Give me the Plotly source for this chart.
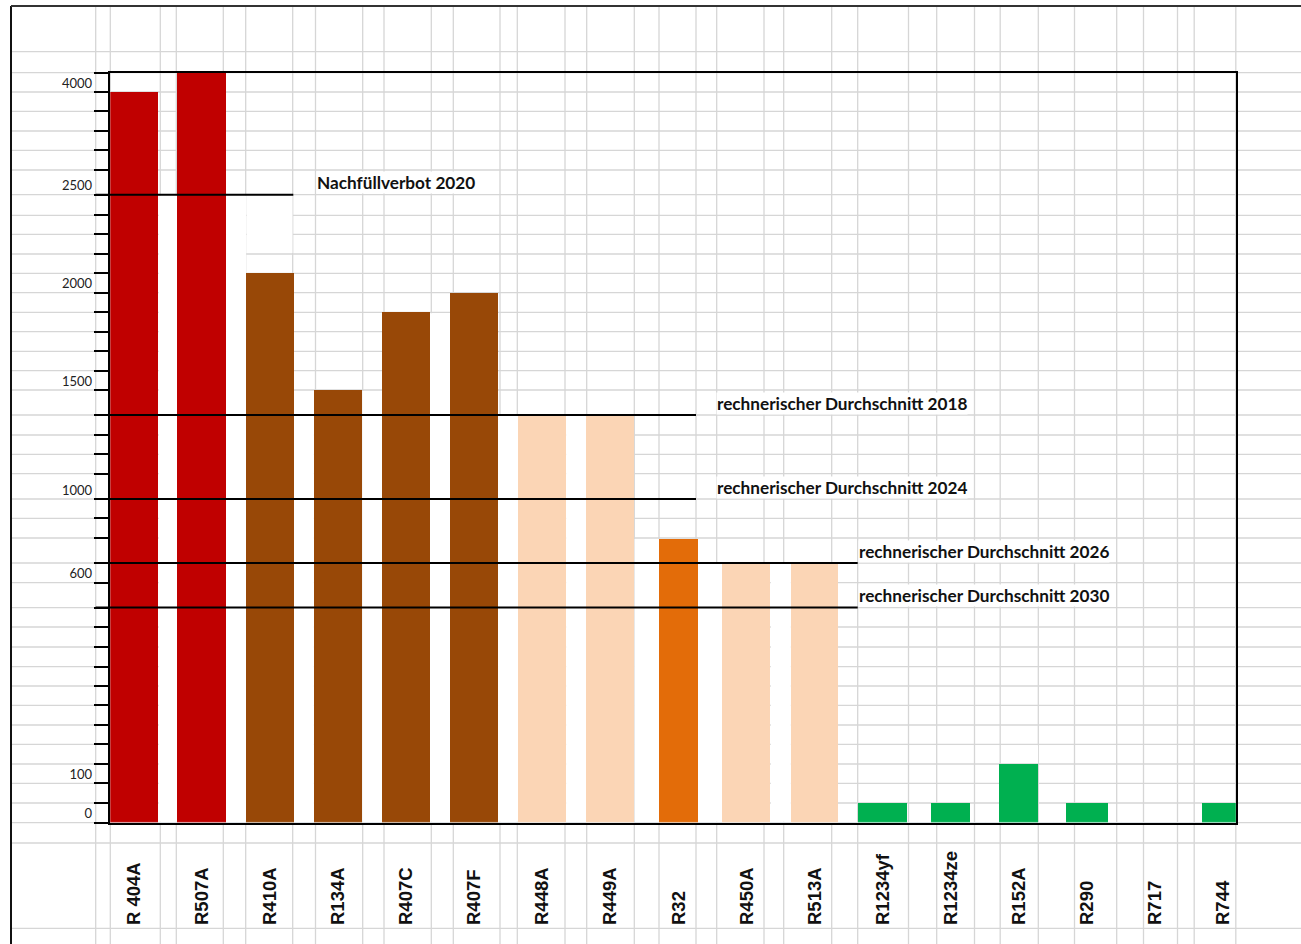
import numpy as np
import plotly.graph_objects as go

# ---------------- data ----------------
refrigerants = ["R 404A", "R507A", "R410A", "R134A", "R407C", "R407F",
                "R448A", "R449A", "R32", "R450A", "R513A",
                "R1234yf", "R1234ze", "R152A", "R290", "R717", "R744"]
gwp = [4000, 4280, 2100, 1500, 1900, 2002, 1385, 1385, 812, 694, 694,
       51, 51, 148, 51, 0, 51]
gwp_class = ["sehr hoch", "sehr hoch", "hoch", "hoch", "hoch", "hoch",
             "mittel", "mittel", "R32", "mittel", "mittel",
             "niedrig", "niedrig", "niedrig", "niedrig", "niedrig", "niedrig"]

limit_labels = ["Nachfüllverbot 2020",
                "rechnerischer Durchschnitt 2018",
                "rechnerischer Durchschnitt 2024",
                "rechnerischer Durchschnitt 2026",
                "rechnerischer Durchschnitt 2030"]
limit_values = [2500, 1385, 1000, 694, 538]

y_tick_values = [0, 100, 600, 1000, 1500, 2000, 2500, 4000]
y_tick_labels = ["0", "100", "600", "1000", "1500", "2000", "2500", "4000"]

# ---------------- styles / layout geometry ----------------
W, H = 1301, 944
CLASS_COLORS = {"sehr hoch": "#C00000", "hoch": "#984807", "mittel": "#FBD5B5",
                "R32": "#E36C09", "niedrig": "#00B050"}
BAR_WIDTHS = [0.73, 0.71, 0.70, 0.71, 0.70, 0.70, 0.70, 0.71, 0.57, 0.71, 0.70,
              0.72, 0.57, 0.57, 0.62, 0.60, 0.61]
# non-linear value axis of the original: position of each labelled value (px above baseline)
SCALE_POS = [0, 39.4, 240.0, 323.7, 432.7, 530.0, 628.0, 730.7]

PLOT_L, PLOT_R, PLOT_T, PLOT_B = 110.3, 1235.8, 72.7, 822.7
TICK_L = 95.7
X_RANGE = [-0.345, 16.185]
LABEL_BASE = 925

# spreadsheet backdrop
GRID_ROWS = [51.7, 72.7, 92, 111.3, 131, 150.3, 170, 194.7, 215.3, 234.3, 254, 273.3,
             292.7, 312.3, 331.7, 351.3, 370.7, 390, 415, 435, 454.3, 473.7, 499,
             518.3, 538, 563, 582.7, 607.7, 627, 647, 666.7, 686, 705.3, 725,
             744.3, 764, 783.3, 803, 822.7, 843, 928.3]
GRID_COLS = [95.7, 110.3, 160.3, 176.3, 223.3, 245.7, 292.7, 315.5, 362.7, 384,
             431.3, 453.3, 500, 517.3, 565, 586.7, 634.3, 659, 696, 716.7, 764,
             783.7, 831.7, 857.7, 908.5, 936.7, 974.5, 1000.2, 1038.3, 1074.5,
             1116.7, 1143.5, 1177.5, 1194.2, 1235.8]
# white-filled gap columns between neighbouring bars: (left bar index, first white row px)
WHITE_GAPS = [(0, 194.7), (1, 194.7), (2, 390), (3, 390), (4, 312.3),
              (5, 415), (6, 415), (7, 538), (8, 563), (9, 563)]
# other white-filled cells: x0, x1, y0, y1 in px
WHITE_CELLS = [(245.7, 292.7, 194.7, 254), (1000.2, 1038.3, 744.3, 764)]
FRAME_X, FRAME_Y = 11, 6
LIMIT_LINE_END = [293.3, 696, 696, 857.7, 857.7]
LIMIT_TEXT_X = [316, 716, 716, 858, 858]


def to_disp(v):
    v = np.asarray(v, dtype=float)
    out = np.interp(v, y_tick_values, SCALE_POS)
    slope = (SCALE_POS[-1] - SCALE_POS[-2]) / (y_tick_values[-1] - y_tick_values[-2])
    return np.where(v > y_tick_values[-1], SCALE_POS[-1] + (v - y_tick_values[-1]) * slope, out)


def px_x(x):
    return x / W


def px_y(y):
    return 1 - y / H


fig = go.Figure()
fig.add_trace(go.Bar(
    x=refrigerants, y=to_disp(gwp),
    marker=dict(color=[CLASS_COLORS[c] for c in gwp_class], line=dict(width=0)),
    width=BAR_WIDTHS, customdata=gwp,
    hovertemplate="%{x}: %{customdata}<extra></extra>", showlegend=False))
# carrier of the category labels (label row below the chart)
fig.add_trace(go.Bar(x=refrigerants, y=[0] * len(refrigerants), xaxis="x2", yaxis="y",
                     marker=dict(color="rgba(0,0,0,0)"), hoverinfo="skip", showlegend=False))

shapes = []
for r in GRID_ROWS:
    shapes.append(dict(type="line", xref="paper", yref="paper", x0=px_x(FRAME_X), x1=1,
                       y0=px_y(r), y1=px_y(r), line=dict(color="#D6D6D6", width=1.3),
                       layer="below"))
for c in GRID_COLS:
    shapes.append(dict(type="line", xref="paper", yref="paper", x0=px_x(c), x1=px_x(c),
                       y0=px_y(FRAME_Y), y1=0, line=dict(color="#D6D6D6", width=1.3),
                       layer="below"))
for i, top in WHITE_GAPS:
    shapes.append(dict(type="rect", xref="x", yref="paper",
                       x0=i + BAR_WIDTHS[i] / 2, x1=i + 1 - BAR_WIDTHS[i + 1] / 2,
                       y0=px_y(PLOT_B - 1), y1=px_y(top + 1),
                       fillcolor="white", line=dict(width=0), layer="below"))
for x0, x1, y0, y1 in WHITE_CELLS:
    shapes.append(dict(type="rect", xref="paper", yref="paper",
                       x0=px_x(x0 + 1), x1=px_x(x1 - 0.2), y0=px_y(y1 - 1), y1=px_y(y0 + 1),
                       fillcolor="white", line=dict(width=0), layer="below"))
# outer frame
shapes.append(dict(type="line", xref="paper", yref="paper", x0=px_x(FRAME_X), x1=px_x(FRAME_X),
                   y0=px_y(FRAME_Y), y1=0, line=dict(color="#111111", width=2)))
shapes.append(dict(type="line", xref="paper", yref="paper", x0=px_x(FRAME_X), x1=1,
                   y0=px_y(FRAME_Y), y1=px_y(FRAME_Y), line=dict(color="#333333", width=2)))
# limit lines
for val, xe in zip(limit_values, LIMIT_LINE_END):
    yv = float(to_disp(val))
    shapes.append(dict(type="line", xref="paper", yref="y", x0=px_x(TICK_L), x1=px_x(xe),
                       y0=yv, y1=yv, line=dict(color="black", width=2), layer="above"))

annotations = []
for lab, val, xt in zip(limit_labels, limit_values, LIMIT_TEXT_X):
    annotations.append(dict(text="<b>%s</b>" % lab, x=px_x(xt), xref="paper", xanchor="left",
                            y=float(to_disp(val)), yref="y", yanchor="middle", yshift=12,
                            showarrow=False, bgcolor="white", borderpad=0,
                            font=dict(family="Lato, Open Sans, sans-serif", size=17.2, color="#111111")))

# ticks: a tick at every spreadsheet row inside the plot, labels on the labelled values
row_disp = [PLOT_B - r for r in GRID_ROWS if PLOT_T - 0.5 <= r <= PLOT_B + 0.5]
lab_disp = list(to_disp(y_tick_values))
tickvals, ticktext = [], []
for d in row_disp:
    match = [i for i, ld in enumerate(lab_disp) if abs(ld - d) < 1.0]
    if match:
        tickvals.append(lab_disp[match[0]])
        ticktext.append(y_tick_labels[match[0]])
    else:
        tickvals.append(d)
        ticktext.append("")

fig.update_layout(
    width=W, height=H, margin=dict(l=0, r=0, t=0, b=0, autoexpand=False),
    paper_bgcolor="white", plot_bgcolor="rgba(0,0,0,0)",
    shapes=shapes, annotations=annotations, bargap=0, barmode="overlay",
    xaxis=dict(domain=[px_x(PLOT_L), px_x(PLOT_R)], range=X_RANGE, type="category",
               showline=True, linecolor="black", linewidth=2, mirror=True,
               showticklabels=False, ticks="", showgrid=False, zeroline=False),
    xaxis2=dict(side="top", anchor="free", position=(H - LABEL_BASE) / H,
                domain=[px_x(PLOT_L), px_x(PLOT_R)], range=X_RANGE, type="category",
                tickangle=-90, showline=False, showgrid=False, zeroline=False, ticks="",
                automargin=False,
                tickfont=dict(family="Liberation Sans, Arial, sans-serif", weight="bold",
                              size=18.5, color="#111111")),
    yaxis=dict(domain=[px_y(PLOT_B), px_y(PLOT_T)], range=[0, PLOT_B - PLOT_T],
               showline=True, linecolor="black", linewidth=2, mirror=True,
               tickmode="array", tickvals=tickvals, ticktext=ticktext,
               ticks="outside", ticklen=PLOT_L - TICK_L, tickwidth=2, tickcolor="black",
               ticklabelshift=-9, ticklabelstandoff=-1, automargin=False,
               tickfont=dict(family="Lato, Open Sans, sans-serif", size=13, color="#222222"),
               showgrid=False, zeroline=False),
)

fig.write_html("out.html", config={"displayModeBar": False},
               post_script="document.body.style.margin='0';document.body.style.overflow='hidden';")
